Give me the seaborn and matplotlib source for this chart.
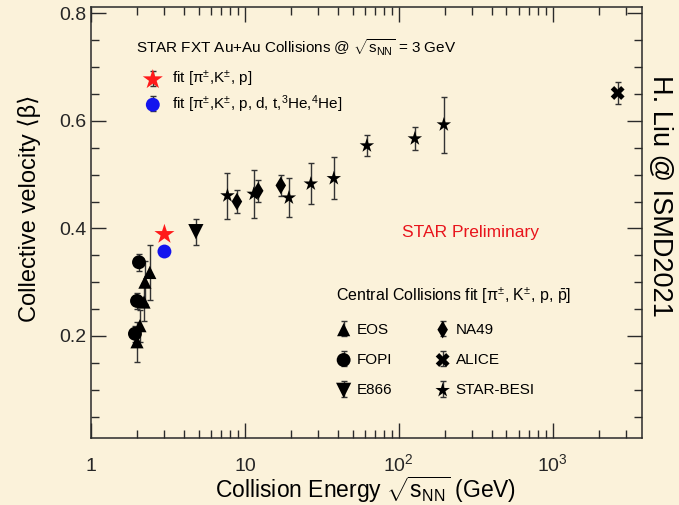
import numpy as np
import pandas as pd
import matplotlib
matplotlib.use("Agg")
import matplotlib.pyplot as plt
import seaborn as sns
from matplotlib.ticker import MultipleLocator, LogLocator, FixedLocator, NullFormatter
from matplotlib.legend_handler import HandlerTuple

# ---------------- data ----------------
eos_E = [1.99, 2.08, 2.21, 2.24, 2.41]
eos_b = [0.189, 0.219, 0.263, 0.300, 0.318]
eos_err = [0.037, 0.030, 0.035, 0.040, 0.052]

fopi_E = [1.93, 1.99, 2.05]
fopi_b = [0.204, 0.265, 0.337]
fopi_err = [0.015, 0.015, 0.016]

e866_E = [4.8]
e866_b = [0.394]
e866_err = [0.024]

na49_E = [8.87, 12.2, 17.1]
na49_b = [0.450, 0.470, 0.480]
na49_err = [0.021, 0.020, 0.020]

alice_E = [2640]
alice_b = [0.652]
alice_err = [0.020]

besi_E = [7.7, 11.4, 19.3, 26.8, 37.8, 62.0, 127.0, 196.0]
besi_b = [0.461, 0.464, 0.457, 0.483, 0.493, 0.554, 0.567, 0.593]
besi_err = [0.043, 0.044, 0.036, 0.038, 0.039, 0.019, 0.021, 0.052]

fxt1_E = [3.0]
fxt1_b = [0.389]
fxt1_err = [0.004]

fxt2_E = [3.0]
fxt2_b = [0.357]
fxt2_err = [0.004]

xtick_vals = [1, 10, 100, 1000]
xtick_labels = ["1", "10", "$10^{2}$", "$10^{3}$"]
ytick_vals = [0.2, 0.4, 0.6, 0.8]

# ---------------- style ----------------
BG = "#FBF2DA"
sns.set_theme(style="ticks")
plt.rcParams["font.family"] = ["Liberation Sans", "DejaVu Sans"]
plt.rcParams.update({
    "mathtext.fontset": "custom",
    "mathtext.rm": "Liberation Sans",
    "mathtext.it": "Liberation Sans:italic",
    "mathtext.bf": "Liberation Sans:bold",
    "mathtext.sf": "Liberation Sans",
    "figure.facecolor": BG,
    "axes.facecolor": BG,
    "savefig.facecolor": BG,
    "axes.edgecolor": "#2a2a2a",
    "axes.linewidth": 1.1,
    "text.color": "black",
})

fig = plt.figure(figsize=(6.79, 5.05), dpi=100)
W, H = 679, 505
ax = fig.add_axes([91 / W, (H - 438) / H, (642 - 91) / W, (438 - 7) / H])
ax.set_xscale("log")


def draw(E, b, err, marker, size, color="black"):
    eb = ax.errorbar(E, b, yerr=err, fmt="none", ecolor="#333333",
                     elinewidth=1.0, capsize=2, capthick=1.0, zorder=2)
    df = pd.DataFrame({"E": E, "b": b})
    sns.scatterplot(data=df, x="E", y="b", marker=marker, s=size, color=color,
                    edgecolor="none", linewidth=0, ax=ax, legend=False, zorder=3)
    sc = ax.collections[-1]
    return (eb, sc)


h_eos = draw(eos_E, eos_b, eos_err, "^", 90)
h_fopi = draw(fopi_E, fopi_b, fopi_err, "o", 100)
h_e866 = draw(e866_E, e866_b, e866_err, "v", 120)
h_na49 = draw(na49_E, na49_b, na49_err, "d", 80)
h_alice = draw(alice_E, alice_b, alice_err, "X", 100)
h_besi = draw(besi_E, besi_b, besi_err, "*", 120)
h_fxt1 = draw(fxt1_E, fxt1_b, fxt1_err, "*", 230, color="#ff1a1a")
h_fxt2 = draw(fxt2_E, fxt2_b, fxt2_err, "o", 100, color="#1414ee")

# ---------------- axes ----------------
ax.set_xlim(1, 3800)
ax.set_ylim(0.01, 0.812)
ax.xaxis.set_major_locator(FixedLocator(xtick_vals))
ax.set_xticklabels(xtick_labels)
ax.xaxis.set_minor_locator(LogLocator(base=10, subs=np.arange(2, 10)))
ax.xaxis.set_minor_formatter(NullFormatter())
ax.yaxis.set_major_locator(FixedLocator(ytick_vals))
ax.set_yticklabels([f"{v:.1f}" for v in ytick_vals])
ax.yaxis.set_minor_locator(MultipleLocator(0.05))
ax.tick_params(which="both", direction="in", top=True, right=True,
               color="#2a2a2a", width=1.0)
ax.tick_params(which="major", length=11)
ax.tick_params(which="minor", length=5.5)
ax.tick_params(axis="y", labelsize=14, pad=3)
ax.tick_params(axis="x", labelsize=14, pad=24)
for lab in ax.get_xticklabels():
    lab.set_verticalalignment("baseline")

ax.set_xlabel("")
ax.set_ylabel("")
fig.text(366 / W, 1 - 498 / H,
         r"Collision Energy $\sqrt{\mathrm{s}_{\mathrm{NN}}}$ (GeV)",
         ha="center", va="baseline", fontsize=16.5)
fig.text(29 / W, 1 - 208 / H, "Collective velocity ⟨β⟩", rotation=90,
         ha="center", va="center", fontsize=17)

# ---------------- legends ----------------
hmap = {tuple: HandlerTuple(ndivide=1)}
fig.text(136 / W, 1 - 48 / H,
         r"STAR FXT Au+Au Collisions @ $\sqrt{\mathrm{s}_{\mathrm{NN}}}$ = 3 GeV",
         ha="left", va="center", fontsize=11)
leg1 = ax.legend(
    handles=[h_fxt1, h_fxt2],
    labels=["fit [π$^{±}$,K$^{±}$, p]",
            "fit [π$^{±}$,K$^{±}$, p, d, t,$^{3}$He,$^{4}$He]"],
    fontsize=11, loc="upper left", bbox_to_anchor=(136 / W, 1 - 69 / H),
    bbox_transform=fig.transFigure, frameon=False, handler_map=hmap,
    scatterpoints=1, numpoints=1, handlelength=2.2, handletextpad=0.15,
    labelspacing=0.25, borderpad=0, borderaxespad=0)
ax.add_artist(leg1)

leg2 = ax.legend(
    handles=[h_eos, h_fopi, h_e866, h_na49, h_alice, h_besi],
    labels=["EOS", "FOPI", "E866", "NA49", "ALICE", "STAR-BESI"],
    title=r"Central Collisions fit [π$^{±}$, K$^{±}$, p, $\bar{\rm p}$]",
    title_fontsize=11.5, fontsize=11, alignment="left", ncol=2,
    loc="upper left", bbox_to_anchor=(336 / W, 1 - 286 / H),
    bbox_transform=fig.transFigure, frameon=False, handler_map=hmap,
    scatterpoints=1, numpoints=1, handlelength=1.0, handletextpad=0.35,
    labelspacing=1.07, columnspacing=2.8, borderpad=0, borderaxespad=0)

# ---------------- annotations ----------------
ax.text((470 - 91) / 551, (438 - 233) / 431, "STAR Preliminary", color="#e8141c",
        fontsize=12.5, ha="center", va="center", transform=ax.transAxes)
fig.text(660 / W, 1 - 196 / H, "H. Liu @ ISMD2021", rotation=-90,
         ha="center", va="center", fontsize=19.5)

fig.savefig("out.png", dpi=100)
